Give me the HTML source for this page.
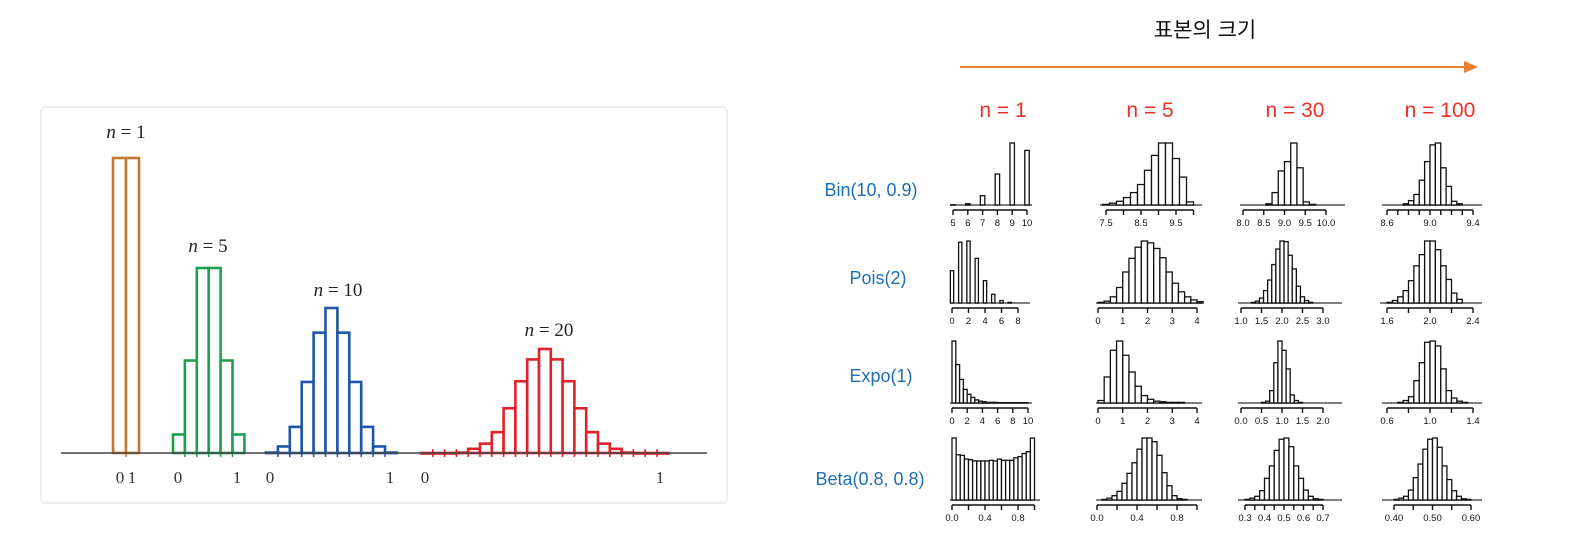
<!DOCTYPE html>
<html><head><meta charset="utf-8">
<style>
html,body{margin:0;padding:0;background:#fff;}
body{width:1590px;height:542px;overflow:hidden;position:relative;}
svg{position:absolute;left:0;top:0;}
</style></head>
<body>
<svg id="chart" width="1590" height="542" viewBox="0 0 1590 542">
  <rect x="41" y="107" width="686" height="396" rx="4" fill="#fff" stroke="#e2e2e2" stroke-width="1.2"/>
  <g id="left"></g>
  <g id="right"></g>
  <text x="1205" y="37" text-anchor="middle" font-family="'Liberation Sans','Noto Sans CJK KR',sans-serif" font-size="21" fill="#111">표본의 크기</text>
  <line x1="960" y1="67" x2="1468" y2="67" stroke="#ed7d31" stroke-width="2"/>
  <polygon points="1478,67 1464,61 1464,73" fill="#ed7d31"/>
</svg>
<script>
// ---------- LEFT: binomial histograms ----------
const leftLabels = ["n = 1", "n = 5", "n = 10", "n = 20"];
const leftOrange = [1, 1];
const leftGreen = [0.1, 0.5, 1, 1, 0.5, 0.1];
const leftBlue = [0.003, 0.045, 0.18, 0.49, 0.83, 1, 0.83, 0.49, 0.18, 0.045, 0.003];
const leftRed = [0, 0, 0, 0.004, 0.04, 0.09, 0.2, 0.43, 0.69, 0.9, 1, 0.9, 0.69, 0.43, 0.2, 0.09, 0.04, 0.004, 0, 0, 0];
const leftPeaks = [295, 185, 145, 104];

// ---------- RIGHT: sampling distribution grid ----------
const colHeaders = ["n = 1", "n = 5", "n = 30", "n = 100"];
const rowLabels = ["Bin(10, 0.9)", "Pois(2)", "Expo(1)", "Beta(0.8, 0.8)"];
const binN1 = [0.004, 0.02, 0.15, 0.5, 1.0, 0.88];
const binN5 = [0.01, 0.03, 0.06, 0.12, 0.2, 0.33, 0.56, 0.8, 1, 1, 0.75, 0.45, 0.05];
const binN30 = [0.02, 0.2, 0.55, 0.7, 1, 0.6, 0.05, 0.01];
const binN100 = [0.02, 0.07, 0.17, 0.4, 0.7, 0.97, 1, 0.6, 0.3, 0.06, 0.02];
const poisN1 = [0.52, 0.98, 1, 0.72, 0.36, 0.14, 0.04, 0.01];
const poisN5 = [0.01, 0.03, 0.1, 0.25, 0.5, 0.72, 0.9, 1, 0.97, 0.88, 0.73, 0.5, 0.32, 0.18, 0.1, 0.05, 0.02];
const poisN30 = [0.01, 0.03, 0.08, 0.2, 0.37, 0.62, 0.87, 1, 0.99, 0.77, 0.55, 0.27, 0.1, 0.04, 0.01];
const poisN100 = [0.01, 0.04, 0.1, 0.2, 0.36, 0.6, 0.78, 1, 1, 0.86, 0.6, 0.38, 0.16, 0.06];
const expoN1 = [1, 0.62, 0.38, 0.22, 0.14, 0.09, 0.05, 0.03, 0.02, 0.01, 0.01, 0.01, 0.005, 0.005, 0.005, 0.005, 0.005, 0.005, 0.005, 0.005];
const expoN5 = [0.04, 0.42, 0.85, 1, 0.77, 0.5, 0.27, 0.12, 0.06, 0.03, 0.02, 0.01, 0.01, 0.01];
const expoN30 = [0.01, 0.03, 0.2, 0.65, 1, 0.85, 0.55, 0.13, 0.04, 0.01];
const expoN100 = [0.01, 0.04, 0.1, 0.36, 0.65, 0.98, 1, 0.92, 0.55, 0.2, 0.08, 0.03, 0.01];
const betaN1 = [1, 0.73, 0.72, 0.66, 0.65, 0.63, 0.63, 0.63, 0.63, 0.64, 0.63, 0.66, 0.64, 0.64, 0.64, 0.68, 0.7, 0.75, 0.78, 1];
const betaN5 = [0.01, 0.03, 0.07, 0.14, 0.27, 0.43, 0.6, 0.82, 1, 1, 0.94, 0.72, 0.44, 0.23, 0.07, 0.02, 0.01];
const betaN30 = [0.01, 0.03, 0.06, 0.15, 0.35, 0.55, 0.8, 0.98, 1, 0.86, 0.55, 0.35, 0.16, 0.06, 0.02, 0.01];
const betaN100 = [0.01, 0.03, 0.06, 0.16, 0.36, 0.58, 0.82, 0.98, 1, 0.85, 0.55, 0.33, 0.15, 0.06, 0.02, 0.01];
const tickLabels = [
  ["5","6","7","8","9","10"], ["7.5","8.5","9.5"], ["8.0","8.5","9.0","9.5","10.0"], ["8.6","9.0","9.4"],
  ["0","2","4","6","8"], ["0","1","2","3","4"], ["1.0","1.5","2.0","2.5","3.0"], ["1.6","2.0","2.4"],
  ["0","2","4","6","8","10"], ["0","1","2","3","4"], ["0.0","0.5","1.0","1.5","2.0"], ["0.6","1.0","1.4"],
  ["0.0","0.4","0.8"], ["0.0","0.4","0.8"], ["0.3","0.4","0.5","0.6","0.7"], ["0.40","0.50","0.60"]
];

const NS = "http://www.w3.org/2000/svg";
function mk(tag, attrs, parent) {
  const e = document.createElementNS(NS, tag);
  for (const k in attrs) e.setAttribute(k, attrs[k]);
  parent.appendChild(e);
  return e;
}

// ----- left drawing -----
const L = document.getElementById('left');
const baseL = 453;
const leftGroups = [
  {vals: leftOrange, x0: 113, w: 13, color: "#c07a35", lx: 126, ly: 138, t0: 120, t1: 132},
  {vals: leftGreen, x0: 173, w: 11.9, color: "#1fa050", lx: 208, ly: 252, t0: 178, t1: 237},
  {vals: leftBlue, x0: 266, w: 11.9, color: "#1f56a8", lx: 338, ly: 296, t0: 270, t1: 390},
  {vals: leftRed, x0: 421, w: 11.8, color: "#e0202a", lx: 549, ly: 336, t0: 425, t1: 660}
];
leftGroups.forEach((g, gi) => {
  const grp = mk('g', {}, L);
  
  
  const peak = leftPeaks[gi];
  g.vals.forEach((v, i) => {
    const h = v * peak;
    const r = mk('rect', {x: g.x0 + i * g.w, y: baseL - h, width: g.w, height: Math.max(h, 0.5),
      fill: '#fff', stroke: g.color, 'stroke-width': 2.6}, grp);
    
    
  });
  const n = g.vals.length;
  for (let i = 1; i < n; i++) {
    mk('line', {x1: g.x0 + i * g.w, y1: baseL - 4, x2: g.x0 + i * g.w, y2: baseL + 4, stroke: g.color, 'stroke-width': 1.5}, grp);
  }
  const lab = mk('text', {x: g.lx, y: g.ly, 'text-anchor': 'middle', 'font-family': "'Liberation Serif',serif", 'font-size': 19, fill: '#222'}, L);
  lab.innerHTML = '<tspan font-style="italic">n</tspan> = ' + leftLabels[gi].split(' = ')[1];
  
  
  [[g.t0, '0'], [g.t1, '1']].forEach(([x, s]) => {
    const t = mk('text', {x: x, y: 483, 'text-anchor': 'middle', 'font-family': "'Liberation Serif',serif", 'font-size': 17, fill: '#333'}, L);
    t.textContent = s;
    
    
  });
});
const ax = mk('line', {x1: 61, y1: baseL, x2: 707, y2: baseL, stroke: '#444', 'stroke-width': 1.6}, L);



// ----- right drawing -----
const R = document.getElementById('right');
const rowBase = [205, 303, 403, 500];
const rowMax = 62;
const panelVals = [binN1, binN5, binN30, binN100, poisN1, poisN5, poisN30, poisN100, expoN1, expoN5, expoN30, expoN100, betaN1, betaN5, betaN30, betaN100];
// layout: first bin start, bin width, step between bins, domain->pixel mapping, ticks
const layout = [
  {s: 4.85, bw: 0.3, st: 1, d0: 5, p0: 953, d1: 10, p1: 1027, tk: [5,6,7,8,9,10], lb: [5,6,7,8,9,10], ax: [950, 1032]},
  {s: 7.4, bw: 0.2, d0: 7.5, p0: 1106, d1: 9.5, p1: 1176, tk: [7.5,8,8.5,9,9.5,10], lb: [7.5,8.5,9.5], ax: [1100, 1202]},
  {s: 8.55, bw: 0.15, d0: 8, p0: 1243, d1: 10, p1: 1326, tk: [8,8.5,9,9.5,10], lb: [8,8.5,9,9.5,10], ax: [1240, 1345]},
  {s: 8.75, bw: 0.05, d0: 8.6, p0: 1387, d1: 9.4, p1: 1473, tk: [8.6,8.7,8.8,8.9,9.0,9.1,9.2,9.3,9.4], lb: [8.6,9.0,9.4], ax: [1382, 1482]},
  {s: -0.2, bw: 0.4, st: 1, d0: 0, p0: 952, d1: 8, p1: 1018, tk: [0,2,4,6,8], lb: [0,2,4,6,8], ax: [950, 1030]},
  {s: 0, bw: 0.25, d0: 0, p0: 1098, d1: 4, p1: 1197, tk: [0,1,2,3,4], lb: [0,1,2,3,4], ax: [1096, 1202]},
  {s: 1.25, bw: 0.1, d0: 1, p0: 1241, d1: 3, p1: 1323, tk: [1,1.5,2,2.5,3], lb: [1,1.5,2,2.5,3], ax: [1238, 1342]},
  {s: 1.6, bw: 0.05, d0: 1.6, p0: 1387, d1: 2.4, p1: 1473, tk: [1.6,1.8,2.0,2.2,2.4], lb: [1.6,2.0,2.4], ax: [1380, 1482]},
  {s: 0, bw: 0.5, d0: 0, p0: 952, d1: 10, p1: 1028, tk: [0,2,4,6,8,10], lb: [0,2,4,6,8,10], ax: [950, 1032]},
  {s: 0, bw: 0.25, d0: 0, p0: 1098, d1: 4, p1: 1197, tk: [0,1,2,3,4], lb: [0,1,2,3,4], ax: [1096, 1202]},
  {s: 0.5, bw: 0.1, d0: 0, p0: 1241, d1: 2, p1: 1323, tk: [0,0.5,1,1.5,2], lb: [0,0.5,1,1.5,2], ax: [1238, 1342]},
  {s: 0.7, bw: 0.05, d0: 0.6, p0: 1387, d1: 1.4, p1: 1473, tk: [0.6,0.8,1.0,1.2,1.4], lb: [0.6,1.0,1.4], ax: [1382, 1482]},
  {s: 0, bw: 0.05, d0: 0, p0: 952, d1: 0.8, p1: 1018, tk: [0,0.2,0.4,0.6,0.8,1.0], lb: [0,0.4,0.8], ax: [950, 1040]},
  {s: 0.05, bw: 0.05, d0: 0, p0: 1097, d1: 0.8, p1: 1177, tk: [0,0.2,0.4,0.6,0.8,1.0], lb: [0,0.4,0.8], ax: [1096, 1202]},
  {s: 0.3, bw: 0.025, d0: 0.3, p0: 1245, d1: 0.7, p1: 1323, tk: [0.3,0.35,0.4,0.45,0.5,0.55,0.6,0.65,0.7], lb: [0.3,0.4,0.5,0.6,0.7], ax: [1238, 1342]},
  {s: 0.4, bw: 0.0125, d0: 0.4, p0: 1394, d1: 0.6, p1: 1471, tk: [0.4,0.45,0.5,0.55,0.6], lb: [0.4,0.5,0.6], ax: [1382, 1482]}
];
layout.forEach((P, idx) => {
  const row = Math.floor(idx / 4);
  const base = rowBase[row];
  const sx = d => P.p0 + (d - P.d0) * (P.p1 - P.p0) / (P.d1 - P.d0);
  const step = P.st || P.bw;
  const g = mk('g', {}, R);
  
  
  mk('line', {x1: P.ax[0], y1: base, x2: P.ax[1], y2: base, stroke: '#555', 'stroke-width': 1.6}, g);
  const vals = panelVals[idx];
  vals.forEach((v, i) => {
    const x0 = sx(P.s + i * step), x1 = sx(P.s + i * step + P.bw);
    const h = v * rowMax;
    const r = mk('rect', {x: x0, y: base - h, width: x1 - x0, height: h, fill: '#fff', stroke: '#111', 'stroke-width': 1.3}, g);
    
    
  });
  const ay = base + 5;
  const tx0 = sx(P.tk[0]), tx1 = sx(P.tk[P.tk.length - 1]);
  mk('line', {x1: tx0, y1: ay, x2: tx1, y2: ay, stroke: '#111', 'stroke-width': 1.4}, g);
  P.tk.forEach(t => mk('line', {x1: sx(t), y1: ay, x2: sx(t), y2: ay + 5, stroke: '#111', 'stroke-width': 1.4}, g));
  P.lb.forEach((t, j) => {
    const tt = mk('text', {x: sx(t), y: base + 21, 'text-anchor': 'middle', 'font-family': "'Liberation Sans',sans-serif", 'font-size': 9.5, fill: '#111'}, g);
    tt.textContent = tickLabels[idx][j];
    
    
  });
});
const colX = [1003, 1150, 1295, 1440];
colHeaders.forEach((h, i) => {
  const t = mk('text', {x: colX[i], y: 117, 'text-anchor': 'middle', 'font-family': "'Liberation Sans',sans-serif", 'font-size': 21, fill: '#e8302a'}, R);
  t.textContent = h;
  
  
});
const rowLabelX = [871, 878, 881, 870];
const rowLabelY = [196, 284, 382, 485];
rowLabels.forEach((h, i) => {
  const t = mk('text', {x: rowLabelX[i], y: rowLabelY[i], 'text-anchor': 'middle', 'font-family': "'Liberation Sans',sans-serif", 'font-size': 18, fill: '#1f6fb5'}, R);
  t.textContent = h;
  
  
});
</script>
</body></html>
